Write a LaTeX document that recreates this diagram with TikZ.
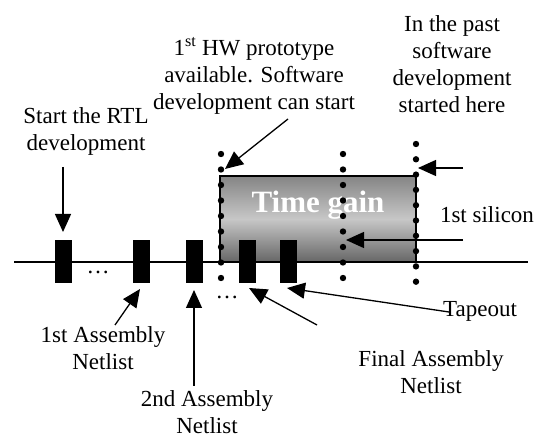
\documentclass[tikz,border=0pt]{standalone}
\usepackage{fontspec}
\setmainfont{Liberation Serif}
\usetikzlibrary{arrows.meta}
\begin{document}
\begin{tikzpicture}[x=1pt,y=-1pt,
  lbl/.style={font=\fontsize{23}{27}\selectfont, align=center, inner sep=0pt},
  bar/.style={fill=black, minimum width=17pt, minimum height=43pt, inner sep=0pt},
  arr/.style={line width=1.3pt, -{Triangle[length=18pt,width=16pt]}},
  dotline/.style={fill=black}]
\useasboundingbox (0,0) rectangle (542,441);

% gain box
\node[draw, line width=1.3pt, top color=black!48, bottom color=black!60, middle color=black!22,
      minimum width=196pt, minimum height=86pt, inner sep=0pt] (box) at (318,219) {};
\node[font=\fontsize{31}{31}\selectfont\bfseries, text=white, inner sep=0pt] (tg) at (318,205) {Time gain};

% timeline
\coordinate (tl) at (14,262);
\coordinate (tr) at (528,262);
\draw[line width=1.3pt] (tl) -- (tr);

% bars
\node[bar] (b1) at (63.5,261.5) {};
\node[bar] (b2) at (141.5,261.5) {};
\node[bar] (b3) at (194.5,261.5) {};
\node[bar] (b4) at (247.5,261.5) {};
\node[bar] (b5) at (288.5,261.5) {};

% ellipses
\node[lbl] (e1) at (98,272) {\ldots};
\node[lbl] (e2) at (227,297) {\ldots};

% dotted verticals
\foreach \k in {0,...,8} {
  \fill[dotline] (221,154+15.5*\k) circle (3.2pt);
  \fill[dotline] (343,154+15.5*\k) circle (3.2pt);
}
\foreach \k in {0,...,9} {
  \fill[dotline] (416,144+15.3*\k) circle (3.2pt);
}

% labels
\node[lbl] (rtl) at (86,131.5) {Start the RTL\\development};
\node[lbl] (hw) at (254,76) {1\textsuperscript{st} HW prototype\\available. Software\\development can start};
\node[lbl] (past) at (452,64) {In the past\\software\\development\\started here};
\node[lbl] (sil) at (487,215) {1st silicon};
\node[lbl] (a1) at (103,348.5) {1st Assembly\\Netlist};
\node[lbl] (a2) at (207,412) {2nd Assembly\\Netlist};
\node[lbl] (fa) at (431,372) {Final Assembly\\Netlist};
\node[lbl] (tape) at (480,311) {Tapeout};

% arrow end points
\coordinate (rtlA) at (63,167);   \coordinate (rtlB) at (63,232);
\coordinate (hwA) at (288,119);   \coordinate (hwB) at (225,169);
\coordinate (pastA) at (463,168); \coordinate (pastB) at (418,168);
\coordinate (silA) at (463,240);  \coordinate (silB) at (346,240);
\coordinate (a1A) at (115,325);   \coordinate (a1B) at (140,289);
\coordinate (a2A) at (194,386);   \coordinate (a2B) at (194,290);
\coordinate (faA) at (317,325);   \coordinate (faB) at (249,288);
\coordinate (tpA) at (449,312);   \coordinate (tpB) at (287,288);

\draw[arr] (rtlA) -- (rtlB);
\draw[arr] (hwA) -- (hwB);
\draw[arr] (pastA) -- (pastB);
\draw[arr] (silA) -- (silB);
\draw[arr] (a1A) -- (a1B);
\draw[arr] (a2A) -- (a2B);
\draw[arr] (faA) -- (faB);
\draw[arr] (tpA) -- (tpB);
\end{tikzpicture}
\end{document}
